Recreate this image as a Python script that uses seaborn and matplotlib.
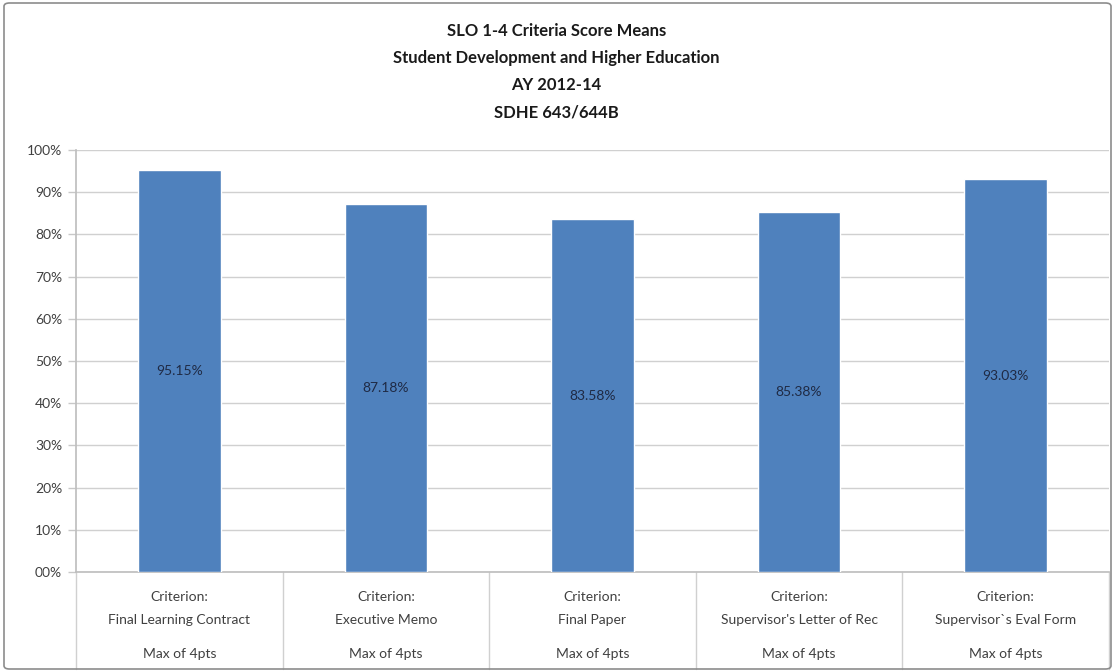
import matplotlib
matplotlib.use("Agg")
import matplotlib.pyplot as plt
import matplotlib.transforms as mtransforms
from matplotlib.patches import FancyBboxPatch
import seaborn as sns
import pandas as pd

# ---- data ----
criteria = ["Final Learning Contract", "Executive Memo", "Final Paper",
            "Supervisor's Letter of Rec", "Supervisor`s Eval Form"]
means = [95.15, 87.18, 83.58, 85.38, 93.03]
criterion_prefix = "Criterion:"
max_note = "Max of 4pts"
title_lines = ["SLO 1-4 Criteria Score Means",
               "Student Development and Higher Education",
               "AY 2012-14",
               "SDHE 643/644B"]
yticks = list(range(0, 101, 10))

sns.set_theme(style="white")
plt.rcParams['font.family'] = ['Lato', 'DejaVu Sans']

df = pd.DataFrame({"criterion": criteria, "mean": means})

fig = plt.figure(figsize=(11.13, 6.72), dpi=100)
ax = fig.add_axes([76/1113, 1-572/672, (1109-76)/1113, (572-150)/672])

sns.barplot(data=df, x="criterion", y="mean", color="#4F81BD",
            saturation=1, width=0.40, ax=ax, zorder=3)
ax.set_ylim(0, 100)
ax.set_xlim(-0.5, len(criteria) - 0.5)
ax.set_yticks(yticks)
ax.set_yticklabels([f"{v:02d}%" for v in yticks], fontsize=10, color="#404040")
ax.yaxis.grid(True, color="#D0D0D0", linewidth=1, zorder=0)
ax.tick_params(axis="y", length=6, color="#C8C8C8", width=1, pad=4, left=True)
ax.set_xlabel("")
ax.set_ylabel("")

for s in ["top", "right"]:
    ax.spines[s].set_visible(False)
ax.spines["left"].set_color("#BFBFBF")
ax.spines["bottom"].set_color("#BFBFBF")

# bar labels
for cont in ax.containers:
    ax.bar_label(cont, labels=[f"{v:.2f}%" for v in means], label_type="center",
                 fontsize=10, color="#1F2A44")

# category labels
ax.set_xticks(range(len(criteria)))
ax.set_xticklabels([""] * len(criteria))
ax.tick_params(axis="x", length=0)
trans = mtransforms.blended_transform_factory(ax.transData, ax.transAxes)
for i, c in enumerate(criteria):
    ax.text(i, -0.0592, criterion_prefix, transform=trans, ha="center", va="center",
            fontsize=10, color="#404040")
    ax.text(i, -0.1137, c, transform=trans, ha="center", va="center",
            fontsize=10, color="#404040")
    ax.text(i, -0.1943, max_note, transform=trans, ha="center", va="center",
            fontsize=10, color="#404040")
# category separators below axis
for b in [i - 0.5 for i in range(len(criteria) + 1)]:
    ax.plot([b, b], [0, -0.23], transform=trans, color="#D0D0D0",
            linewidth=1, clip_on=False)

# title
for k, line in enumerate(title_lines):
    fig.text(0.5, 1 - (31 + 27 * k)/672, line, ha="center", va="center",
             fontsize=12, fontweight="bold", color="#1A1A1A")

# chart border
fig.patches.append(FancyBboxPatch((4/1113, 3/672), 1 - 6/1113, 1 - 6/672,
                                  boxstyle="round,pad=0,rounding_size=0.005",
                                  transform=fig.transFigure, fill=False,
                                  edgecolor="#8C8C8C", linewidth=1.2))

fig.savefig("out.png", dpi=100)
